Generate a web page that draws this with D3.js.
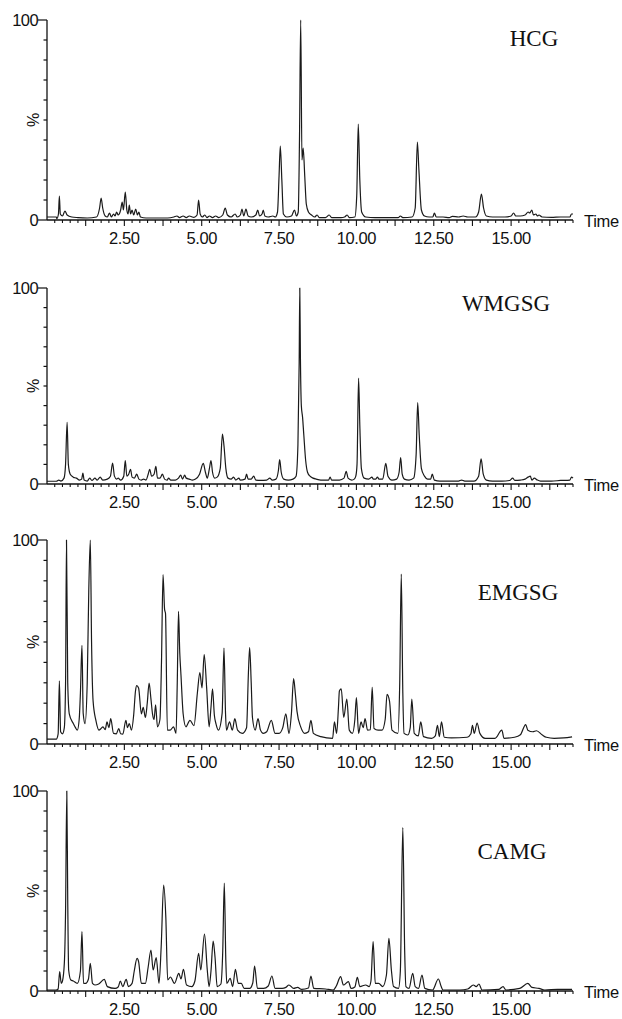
<!DOCTYPE html>
<html><head><meta charset="utf-8">
<script src="https://cdn.jsdelivr.net/npm/d3@7"></script>
<style>body{margin:0;background:#fff}svg{display:block}</style>
</head><body><svg id="c" width="622" height="1019"></svg>
<script>
const panelNames = ["HCG", "WMGSG", "EMGSG", "CAMG"];
const xTickLabels = ["2.50", "5.00", "7.50", "10.00", "12.50", "15.00"];
const xTickValues = [2.5, 5, 7.5, 10, 12.5, 15];
const yTickLabels = ["0", "100"];
const yTickValues = [0, 100];
const xAxisTitle = "Time";
const yAxisTitle = "%";

// [time (min), relative intensity (%)]
const hcg = [[0,1.5],[0.3,1.5],[0.32,0.7],[0.37,3],[0.40,12],[0.43,3],[0.5,2],[0.58,4.5],[0.65,2.5],[0.8,1.5],[1.0,1.2],[1.3,1.0],[1.6,1.5],[1.7,6],[1.75,11],[1.8,6],[1.88,2],[1.95,1.5],[2.02,3.5],[2.08,1.5],[2.15,3],[2.2,2],[2.25,4],[2.3,2.5],[2.38,5],[2.43,9],[2.47,5],[2.53,14],[2.58,5],[2.62,3],[2.66,7.5],[2.7,3],[2.75,5],[2.8,2.5],[2.87,5.5],[2.92,2.5],[2.97,4],[3.02,1.5],[3.2,1.0],[3.5,1.0],[3.9,1.0],[4.1,1.5],[4.2,2],[4.28,1.2],[4.4,2],[4.5,1.2],[4.6,2],[4.75,1.3],[4.85,2.5],[4.9,10],[4.95,3],[5.02,1.5],[5.1,2.5],[5.17,1.2],[5.25,2],[5.35,1.2],[5.45,2],[5.55,1.2],[5.68,2.5],[5.76,6],[5.83,2.5],[5.95,1.5],[6.08,3],[6.15,1.5],[6.25,2.5],[6.3,5.5],[6.36,2],[6.43,5.5],[6.5,2],[6.6,1.5],[6.75,2.5],[6.81,5],[6.87,2],[6.95,3],[6.99,5],[7.04,2],[7.15,1.5],[7.3,2],[7.38,1.5],[7.45,4],[7.5,22],[7.54,37],[7.59,20],[7.64,3],[7.75,1.5],[7.9,2],[8.0,5],[8.06,2],[8.12,4],[8.16,40],[8.2,100],[8.24,30],[8.28,36],[8.33,22],[8.38,8],[8.45,4],[8.55,2.5],[8.65,1.5],[8.73,2.5],[8.8,1.2],[9.0,1.2],[9.12,2.5],[9.2,1.2],[9.5,1.2],[9.62,1.5],[9.7,2.5],[9.77,1.2],[9.95,1.5],[10.01,12],[10.06,48],[10.11,20],[10.17,4],[10.3,1.5],[10.6,1.2],[11.0,1.2],[11.35,1.2],[11.42,2],[11.5,1.2],[11.8,1.5],[11.9,6],[11.97,39],[12.02,25],[12.1,5],[12.2,2],[12.35,1.5],[12.47,1.5],[12.52,3.5],[12.58,1.5],[12.8,1.5],[13.0,1.2],[13.1,1.8],[13.3,1.5],[13.45,2],[13.6,1.5],[13.85,1.5],[13.95,4],[14.04,13],[14.11,6],[14.2,2],[14.4,1.5],[14.8,1.5],[15.0,2],[15.08,3.5],[15.15,2],[15.3,2],[15.45,2.5],[15.55,4],[15.6,3.5],[15.67,5],[15.72,2.5],[15.8,3],[15.85,2],[15.9,2.5],[16.0,1.5],[16.3,1.3],[16.6,1.5],[16.9,1.5],[16.95,3],[17.0,3]];

const wmgsg = [[0,1.4],[0.3,1.4],[0.38,2],[0.45,1.5],[0.55,3],[0.6,10],[0.65,31.5],[0.69,10],[0.75,5],[0.85,3.5],[0.95,3],[1.05,2],[1.12,2.5],[1.16,5.5],[1.2,2],[1.3,1.5],[1.38,3],[1.45,1.8],[1.55,3],[1.62,2],[1.72,3.5],[1.8,2],[1.95,2.5],[2.05,4],[2.12,10.7],[2.18,4],[2.25,2.5],[2.3,3],[2.38,2],[2.48,4],[2.53,12],[2.58,4],[2.64,5],[2.7,7.5],[2.75,3.5],[2.82,3],[2.9,5],[2.97,2.5],[3.05,2],[3.12,2.5],[3.2,2],[3.27,5],[3.32,7.5],[3.38,4],[3.46,5],[3.52,9],[3.57,3],[3.65,3],[3.73,5],[3.8,2.5],[3.88,2],[3.93,3],[4.0,2],[4.15,2],[4.25,3],[4.32,4.5],[4.38,2.5],[4.45,4.5],[4.5,3],[4.6,2.5],[4.7,2],[4.8,2.5],[4.93,5],[5.05,10.5],[5.12,6],[5.18,3],[5.25,8],[5.3,12],[5.35,6],[5.42,3],[5.5,3.5],[5.6,8],[5.67,25.5],[5.72,19.5],[5.78,8],[5.85,3],[5.95,2.5],[6.03,3.5],[6.1,2],[6.2,3],[6.25,2],[6.4,2.5],[6.45,5],[6.5,2.5],[6.6,2.5],[6.68,4],[6.75,2],[6.9,1.8],[7.1,2],[7.2,3],[7.28,2],[7.4,2.5],[7.48,7],[7.52,12.5],[7.57,6],[7.65,2.5],[7.8,2],[7.95,2.5],[8.05,4],[8.11,20],[8.15,62],[8.17,100],[8.19,65],[8.22,40],[8.26,34],[8.3,25],[8.36,12],[8.42,6],[8.5,4],[8.6,3],[8.7,2.5],[8.85,2],[9.0,2],[9.1,2],[9.15,3.5],[9.2,2],[9.45,2],[9.6,3],[9.67,6.5],[9.73,3],[9.85,2],[9.93,2.5],[9.98,4],[10.02,10],[10.07,54],[10.11,30],[10.16,8],[10.25,3],[10.4,2.5],[10.5,3.5],[10.55,2.5],[10.62,2.5],[10.68,3.5],[10.73,2.5],[10.85,2.5],[10.95,10.5],[11.02,4],[11.15,2],[11.3,2.5],[11.38,6],[11.43,13.5],[11.48,5],[11.55,2.5],[11.7,2],[11.85,3],[11.93,15],[11.98,41.5],[12.03,25],[12.1,8],[12.2,4],[12.3,2.5],[12.4,2.5],[12.45,5],[12.52,2],[12.7,1.5],[13.0,1.5],[13.3,1.5],[13.4,2],[13.5,1.5],[13.8,1.5],[13.95,4],[14.03,12.8],[14.1,5],[14.2,2],[14.4,1.5],[14.7,1.5],[14.95,1.8],[15.05,3],[15.12,1.8],[15.3,2],[15.45,2.5],[15.55,3.5],[15.62,4],[15.67,2],[15.75,3],[15.85,2],[15.95,1.5],[16.3,1.5],[16.6,1.8],[16.9,2],[16.95,3.5],[17.0,3]];

const emgsg = [[0,2.4],[0.3,2.4],[0.36,5],[0.40,31],[0.44,6],[0.5,5],[0.56,8],[0.6,30],[0.63,100],[0.67,30],[0.72,14.8],[0.85,10],[0.92,8],[0.98,6.8],[1.04,12],[1.08,25],[1.13,48.4],[1.17,15],[1.23,10],[1.3,30],[1.35,75],[1.40,100],[1.44,50],[1.49,21],[1.58,11.6],[1.68,6.8],[1.74,7.5],[1.81,8.4],[1.88,7],[1.94,10.8],[2.0,8],[2.06,12.4],[2.15,5.2],[2.24,5],[2.32,7.6],[2.38,5],[2.45,4.8],[2.55,11.6],[2.6,8],[2.66,10],[2.73,6.8],[2.8,14],[2.86,26],[2.90,28.6],[2.96,27.5],[3.05,14.8],[3.11,18],[3.18,13],[3.24,20],[3.30,29.8],[3.36,22],[3.41,14.8],[3.46,12],[3.51,19.2],[3.57,8.4],[3.65,12],[3.7,40],[3.75,83],[3.8,66],[3.83,64],[3.89,6.8],[3.98,6.8],[4.09,8.4],[4.17,5.2],[4.21,30],[4.25,65],[4.29,45],[4.33,33.8],[4.40,14.8],[4.49,8.4],[4.62,11.6],[4.75,9],[4.86,25],[4.94,35],[5.01,27.5],[5.08,43.8],[5.16,27.5],[5.24,8.4],[5.3,18],[5.35,27],[5.41,14],[5.46,10],[5.54,6.8],[5.66,15],[5.72,47],[5.77,15],[5.80,6.8],[5.90,10.8],[5.99,6.8],[6.07,12.4],[6.16,6.8],[6.31,5.2],[6.45,8],[6.51,35],[6.55,47.3],[6.6,30],[6.64,13],[6.73,6.8],[6.82,12.4],[6.90,6.8],[6.99,5.2],[7.1,6],[7.25,11.6],[7.37,5.2],[7.50,5.2],[7.62,8],[7.72,14.8],[7.82,5.2],[7.9,15],[7.97,32],[8.03,24],[8.08,16],[8.20,8.4],[8.33,5.2],[8.45,6],[8.53,11.6],[8.61,5.2],[8.85,3.6],[9.23,2.8],[9.29,10.8],[9.36,5.2],[9.42,18],[9.45,26],[9.51,27],[9.59,13],[9.69,22],[9.77,6.8],[9.87,5.2],[9.95,12],[10.0,22.7],[10.07,5.2],[10.15,10.8],[10.22,8],[10.28,12.4],[10.36,6.8],[10.45,7],[10.51,27.8],[10.57,7.6],[10.70,6.8],[10.83,6.8],[10.93,12],[10.99,24.3],[11.07,21],[11.15,6.8],[11.34,5.2],[11.40,30],[11.45,83.3],[11.50,25],[11.54,5.2],[11.66,4.4],[11.74,8],[11.79,22],[11.87,5.2],[12.0,4],[12.08,10.8],[12.17,3.6],[12.43,2.8],[12.55,4],[12.62,9.2],[12.68,3.6],[12.75,10.8],[12.84,3.3],[13.07,3],[13.58,3.3],[13.7,5],[13.75,9.2],[13.81,5.2],[13.90,10.3],[13.99,5.2],[14.16,2.8],[14.48,2.8],[14.70,6.8],[14.77,2.8],[15.11,3.3],[15.3,4.5],[15.47,9.5],[15.54,6.8],[15.7,6],[15.82,6.5],[16.01,4.4],[16.14,3.3],[16.39,2.8],[16.7,3],[16.97,3.5]];

const camg = [[0,0.5],[0.3,0.5],[0.36,1],[0.41,9.7],[0.46,3.8],[0.5,5],[0.56,13.8],[0.6,40],[0.64,100],[0.67,45.5],[0.7,10.5],[0.77,5.5],[0.85,5],[0.98,3.8],[1.08,10],[1.13,29.7],[1.18,3.8],[1.25,3.8],[1.34,6],[1.4,13.8],[1.47,3.8],[1.55,3],[1.67,3.5],[1.85,5.8],[1.95,2.2],[2.2,1.3],[2.3,2],[2.37,5],[2.45,2.2],[2.56,5.8],[2.63,2.2],[2.75,3.8],[2.82,10],[2.91,16.3],[2.96,14.7],[3.05,3.8],[3.18,3.8],[3.27,12],[3.36,20.5],[3.43,10.5],[3.53,16.7],[3.62,3.8],[3.69,22],[3.77,53],[3.84,37],[3.9,5.5],[3.99,7],[4.12,3.8],[4.26,8.8],[4.33,6],[4.41,10.8],[4.51,3],[4.68,2.2],[4.78,5],[4.9,18.8],[4.97,10.5],[5.09,28.5],[5.18,10.5],[5.24,2.2],[5.3,10],[5.37,25],[5.43,17],[5.5,2.2],[5.62,3.5],[5.68,20],[5.73,54],[5.78,15],[5.81,3.8],[5.92,6.3],[6.0,2.2],[6.09,10.8],[6.18,3.8],[6.28,3.8],[6.37,1.3],[6.55,1.3],[6.65,4],[6.71,12.5],[6.8,1.3],[7.0,1.3],[7.15,2.5],[7.27,7.5],[7.37,1.3],[7.6,1.3],[7.72,1.8],[7.82,3],[7.97,1.3],[8.1,1.8],[8.23,0.8],[8.45,1.5],[8.53,7.5],[8.62,1.3],[9.0,1.0],[9.25,0.5],[9.35,2.5],[9.49,7.2],[9.58,3],[9.74,4.7],[9.83,1.3],[9.95,2],[10.03,6.8],[10.11,2.2],[10.3,3],[10.41,2.2],[10.47,5],[10.54,24.7],[10.61,3.8],[10.72,3.8],[10.85,2.2],[10.97,8],[11.05,26.3],[11.13,10.5],[11.2,2.2],[11.36,1.3],[11.42,10],[11.5,81.7],[11.56,20],[11.6,2.2],[11.7,1.3],[11.82,8.8],[11.9,2.2],[12.01,1.3],[12.12,8],[12.21,1.3],[12.46,0.5],[12.65,6],[12.74,2.2],[12.8,0.5],[13.34,0.5],[13.6,1],[13.78,3],[13.87,2.2],[13.96,3.5],[14.06,0.5],[14.6,0.8],[14.74,2.2],[14.83,0.5],[15.28,1.3],[15.54,3.8],[15.67,1.8],[15.9,1.3],[16.09,0.5],[16.5,0.8],[16.97,0.8]];

const series = [hcg, wmgsg, emgsg, camg];

// layout (pixels)
const panels = [
  {top: 20,  bottom: 220, lx: 534, ly: 46},
  {top: 288, bottom: 484, lx: 506, ly: 311},
  {top: 540, bottom: 744, lx: 518, ly: 600},
  {top: 791, bottom: 991, lx: 512, ly: 859}
];
const xLeft = 47, xRight = 573;
const x = d3.scaleLinear().domain([0, 17]).range([xLeft, xRight]);
const svg = d3.select("#c");
const sans = "'Liberation Sans', Arial, sans-serif";
const serif = "'Liberation Serif', 'Times New Roman', serif";

panels.forEach((p, i) => {
  const y = d3.scaleLinear().domain([0, 100]).range([p.bottom, p.top]);
  const g = svg.append("g");

  // trace
  const line = d3.line().x(d => x(d[0])).y(d => y(d[1])).curve(d3.curveMonotoneX);
  g.append("path").datum(series[i]).attr("d", line)
    .attr("fill", "none").attr("stroke", "#1a1a1a").attr("stroke-width", 1.2)
    .attr("stroke-linejoin", "round");

  // y axis
  g.append("line").attr("x1", xLeft).attr("x2", xLeft).attr("y1", y(100)).attr("y2", y(0))
    .attr("stroke", "#111").attr("stroke-width", 1.3);
  const yt = d3.range(0, 101, 10);
  g.selectAll(".ytick").data(yt).enter().append("line")
    .attr("x1", d => (d === 0 || d === 100) ? xLeft - 9 : xLeft - 3.5)
    .attr("x2", xLeft).attr("y1", d => y(d)).attr("y2", d => y(d))
    .attr("stroke", "#111").attr("stroke-width", 1.2);
  g.selectAll(".ylab").data(yTickValues).enter().append("text")
    .attr("x", xLeft - 9).attr("y", d => y(d) + 6)
    .attr("text-anchor", "end").attr("font-family", sans).attr("font-size", 16.5)
    .attr("letter-spacing", -0.6).attr("fill", "#111")
    .text((d, k) => yTickLabels[k]);
  g.append("text")
    .attr("transform", `translate(${xLeft - 8},${y(50)}) rotate(-90)`)
    .attr("text-anchor", "middle").attr("font-family", sans).attr("font-size", 16)
    .attr("fill", "#111").text(yAxisTitle);

  // x axis
  g.append("line").attr("x1", xLeft).attr("x2", xRight).attr("y1", y(0)).attr("y2", y(0))
    .attr("stroke", "#111").attr("stroke-width", 1.3);
  const minor = d3.range(0.25, 17.01, 0.25);
  g.selectAll(".xtick").data(minor).enter().append("line")
    .attr("x1", d => x(d)).attr("x2", d => x(d))
    .attr("y1", y(0)).attr("y2", d => (Math.abs(d / 1.25 - Math.round(d / 1.25)) < 1e-6) ? y(0) + 6 : y(0) + 3)
    .attr("stroke", "#111").attr("stroke-width", 1.1);
  g.selectAll(".xlab").data(xTickValues).enter().append("text")
    .attr("x", d => x(d)).attr("y", y(0) + 24)
    .attr("text-anchor", "middle").attr("font-family", sans).attr("font-size", 16.5)
    .attr("letter-spacing", -0.4).attr("fill", "#111")
    .text((d, k) => xTickLabels[k]);
  g.append("text").attr("x", 584).attr("y", y(0) + 7)
    .attr("font-family", sans).attr("font-size", 16.5).attr("fill", "#111")
    .attr("letter-spacing", -0.3).text(xAxisTitle);

  // sample label
  g.append("text").attr("x", p.lx).attr("y", p.ly)
    .attr("text-anchor", "middle").attr("font-family", serif).attr("font-size", 23)
    .attr("fill", "#111").text(panelNames[i]);
});
</script>
</body></html>
